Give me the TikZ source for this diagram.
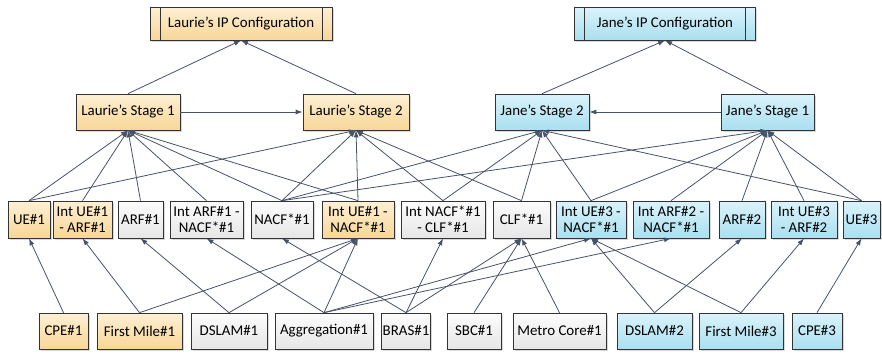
\documentclass[tikz,border=0pt]{standalone}
\usepackage{fontspec}
\setmainfont{Carlito}
\usetikzlibrary{positioning,arrows.meta,shadows}

\definecolor{edgecol}{HTML}{465268}
\definecolor{lautop}{HTML}{FDF0D4}
\definecolor{laubot}{HTML}{F8D697}
\definecolor{jantop}{HTML}{DAF3FB}
\definecolor{janbot}{HTML}{AADFF0}
\definecolor{gratop}{HTML}{FCFCFC}
\definecolor{grabot}{HTML}{E6E6E6}

\begin{document}
\begin{tikzpicture}[x=1pt,y=-1pt,
  box/.style={draw=black!80,line width=0.7pt,align=center,inner sep=1pt,
    font=\fontsize{14.9}{16.5}\selectfont,
    drop shadow={shadow xshift=1.5pt,shadow yshift=-1.5pt,opacity=0.3}},
  lbox/.style={box,top color=lautop,bottom color=laubot},
  jbox/.style={box,top color=jantop,bottom color=janbot},
  gbox/.style={box,top color=gratop,bottom color=grabot},
  arr/.style={-{Latex[length=7pt,width=5pt]},draw=edgecol,line width=0.8pt}]
  \useasboundingbox (0,0) rectangle (882,354);
  % configurations
  \node[lbox,minimum width=182pt,minimum height=33pt] (lipc) at (241,23.5) {Laurie’s IP Configuration};
  \node[jbox,minimum width=181pt,minimum height=33pt] (jipc) at (665,23.5) {Jane’s IP Configuration};
  \draw[black!80,line width=0.7pt] ([xshift=10.5pt]lipc.north west) -- ([xshift=10.5pt]lipc.south west);
  \draw[black!80,line width=0.7pt] ([xshift=-10.5pt]lipc.north east) -- ([xshift=-10.5pt]lipc.south east);
  \draw[black!80,line width=0.7pt] ([xshift=10.5pt]jipc.north west) -- ([xshift=10.5pt]jipc.south west);
  \draw[black!80,line width=0.7pt] ([xshift=-10.5pt]jipc.north east) -- ([xshift=-10.5pt]jipc.south east);
  % stages
  \node[lbox,minimum width=104pt,minimum height=36pt] (ls1) at (128,112) {Laurie’s Stage 1};
  \node[lbox,minimum width=106pt,minimum height=36pt] (ls2) at (356,112) {Laurie’s Stage 2};
  \node[jbox,minimum width=94pt,minimum height=36pt] (js2) at (542,112) {Jane’s Stage 2};
  \node[jbox,minimum width=93pt,minimum height=36pt] (js1) at (767.5,112) {Jane’s Stage 1};
  % components
  \node[lbox,minimum width=42pt,minimum height=37pt] (ue1) at (29,219.5) {UE\#1};
  \node[lbox,minimum width=59pt,minimum height=37pt] (iua1) at (82.5,219.5) {Int UE\#1\\- ARF\#1};
  \node[gbox,minimum width=45pt,minimum height=37pt] (arf1) at (140.5,219.5) {ARF\#1};
  \node[gbox,minimum width=73pt,minimum height=37pt] (iarn1) at (206.5,219.5) {Int ARF\#1 -\\NACF*\#1};
  \node[gbox,minimum width=62pt,minimum height=37pt] (nacf1) at (282,219.5) {NACF*\#1};
  \node[lbox,minimum width=72pt,minimum height=37pt] (iun1) at (358,219.5) {Int UE\#1 -\\NACF*\#1};
  \node[gbox,minimum width=84pt,minimum height=37pt] (incl1) at (443,219.5) {Int NACF*\#1\\- CLF*\#1};
  \node[gbox,minimum width=57pt,minimum height=37pt] (clf1) at (521.5,219.5) {CLF*\#1};
  \node[jbox,minimum width=70pt,minimum height=37pt] (iu3n1) at (591,219.5) {Int UE\#3 -\\NACF*\#1};
  \node[jbox,minimum width=76pt,minimum height=37pt] (iar2n1) at (671,219.5) {Int ARF\#2 -\\NACF*\#1};
  \node[jbox,minimum width=46pt,minimum height=37pt] (arf2) at (742,219.5) {ARF\#2};
  \node[jbox,minimum width=66pt,minimum height=37pt] (iu3a2) at (804,219.5) {Int UE\#3\\- ARF\#2};
  \node[jbox,minimum width=37pt,minimum height=37pt] (ue3) at (861.5,219.5) {UE\#3};
  % network
  \node[lbox,minimum width=49pt,minimum height=36pt] (cpe1) at (63.5,331) {CPE\#1};
  \node[lbox,minimum width=85pt,minimum height=36pt] (fm1) at (139.5,331) {First Mile\#1};
  \node[gbox,minimum width=76pt,minimum height=36pt] (dslam1) at (229,331) {DSLAM\#1};
  \node[gbox,minimum width=98pt,minimum height=36pt] (agg1) at (324,331) {Aggregation\#1};
  \node[gbox,minimum width=44pt,minimum height=36pt] (bras1) at (406,331) {BRAS\#1};
  \node[gbox,minimum width=54pt,minimum height=36pt] (sbc1) at (474,331) {SBC\#1};
  \node[gbox,minimum width=93pt,minimum height=36pt] (metro1) at (559.5,331) {Metro Core\#1};
  \node[jbox,minimum width=75pt,minimum height=36pt] (dslam2) at (654.5,331) {DSLAM\#2};
  \node[jbox,minimum width=84pt,minimum height=36pt] (fm3) at (741,331) {First Mile\#3};
  \node[jbox,minimum width=50pt,minimum height=36pt] (cpe3) at (817,331) {CPE\#3};
  % stages to configurations
  \draw[arr] (ls1.north) -- (lipc.south);
  \draw[arr] (ls2.north) -- (lipc.south);
  \draw[arr] (js2.north) -- (jipc.south);
  \draw[arr] (js1.north) -- (jipc.south);
  \draw[arr] (ls1) -- (ls2);
  \draw[arr] (js1) -- (js2);
  % components to stages
  \draw[arr] (ue1.north) -- (ls1.south);
  \draw[arr] (iua1.north) -- (ls1.south);
  \draw[arr] (arf1.north) -- (ls1.south);
  \draw[arr] (iarn1.north) -- (ls1.south);
  \draw[arr] (nacf1.north) -- (ls1.south);
  \draw[arr] (iun1.north) -- (ls1.south);
  \draw[arr] (ue1.north) -- (ls2.south);
  \draw[arr] (nacf1.north) -- (ls2.south);
  \draw[arr] (iun1.north) -- (ls2.south);
  \draw[arr] (incl1.north) -- (ls2.south);
  \draw[arr] (clf1.north) -- (ls2.south);
  \draw[arr] (nacf1.north) -- (js2.south);
  \draw[arr] (incl1.north) -- (js2.south);
  \draw[arr] (clf1.north) -- (js2.south);
  \draw[arr] (iu3n1.north) -- (js2.south);
  \draw[arr] (ue3.north) -- (js2.south);
  \draw[arr] (nacf1.north) -- (js1.south);
  \draw[arr] (iu3n1.north) -- (js1.south);
  \draw[arr] (iar2n1.north) -- (js1.south);
  \draw[arr] (arf2.north) -- (js1.south);
  \draw[arr] (iu3a2.north) -- (js1.south);
  \draw[arr] (ue3.north) -- (js1.south);
  % network to components
  \draw[arr] (cpe1.north) -- (ue1.south);
  \draw[arr] (fm1.north) -- (iua1.south);
  \draw[arr] (fm1.north) -- (iun1.south);
  \draw[arr] (dslam1.north) -- (arf1.south);
  \draw[arr] (dslam1.north) -- (iun1.south);
  \draw[arr] (agg1.north) -- (iarn1.south);
  \draw[arr] (agg1.north) -- (iun1.south);
  \draw[arr] (agg1.north) -- (iu3n1.south);
  \draw[arr] (agg1.north) -- (iar2n1.south);
  \draw[arr] (bras1.north) -- (nacf1.south);
  \draw[arr] (bras1.north) -- (incl1.south);
  \draw[arr] (bras1.north) -- (clf1.south);
  \draw[arr] (sbc1.north) -- (clf1.south);
  \draw[arr] (metro1.north) -- (clf1.south);
  \draw[arr] (dslam2.north) -- (iu3n1.south);
  \draw[arr] (dslam2.north) -- (arf2.south);
  \draw[arr] (fm3.north) -- (iu3n1.south);
  \draw[arr] (fm3.north) -- (iu3a2.south);
  \draw[arr] (cpe3.north) -- (ue3.south);
\end{tikzpicture}
\end{document}
